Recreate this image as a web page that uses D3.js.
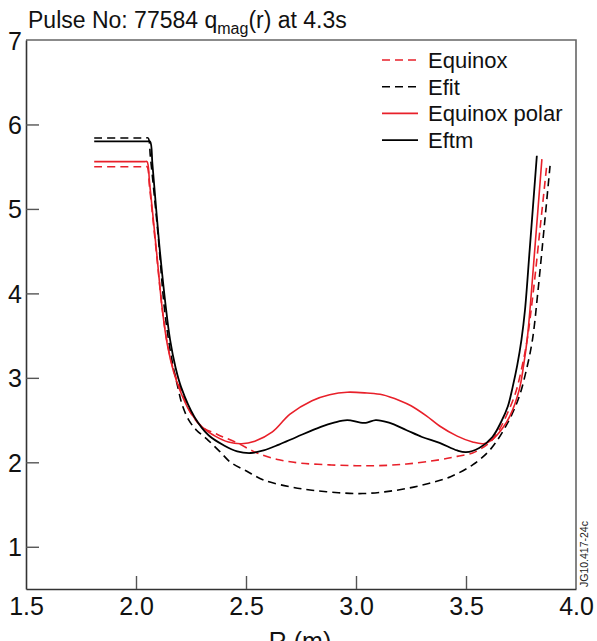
<!DOCTYPE html>
<html>
<head>
<meta charset="utf-8">
<script src="https://cdn.jsdelivr.net/npm/d3@7"></script>
<style>
  body { margin: 0; background: #fff; }
  svg { font-family: "Liberation Sans", Arial, sans-serif; }
</style>
</head>
<body>
<svg id="chart" width="597" height="641"></svg>
<script>

// q profiles, [R (m), q]
var equinox = [
  [1.81,5.50],[2.00,5.50],[2.04,5.50],[2.05,5.50],[2.062,5.25],[2.094,4.45],[2.12,3.80],
  [2.143,3.40],[2.172,3.08],[2.205,2.85],[2.25,2.58],[2.30,2.42],[2.37,2.33],[2.46,2.23],
  [2.55,2.11],[2.65,2.03],[2.75,1.99],[2.88,1.97],[3.00,1.96],[3.10,1.96],[3.23,1.98],
  [3.38,2.03],[3.46,2.07],[3.53,2.11],[3.58,2.18],[3.61,2.24],[3.65,2.38],[3.69,2.59],
  [3.725,2.82],[3.752,3.10],[3.778,3.45],[3.805,4.00],[3.838,4.80],[3.868,5.54]
];
var efit = [
  [1.81,5.84],[2.00,5.84],[2.045,5.84],[2.055,5.84],[2.066,5.60],[2.10,4.70],[2.128,3.85],
  [2.148,3.45],[2.17,3.12],[2.19,2.89],[2.21,2.68],[2.24,2.50],[2.275,2.38],[2.32,2.28],
  [2.38,2.13],[2.43,2.00],[2.50,1.90],[2.58,1.79],[2.70,1.71],[2.80,1.67],[2.92,1.64],
  [3.03,1.63],[3.13,1.65],[3.23,1.69],[3.33,1.75],[3.43,1.83],[3.53,1.97],[3.61,2.15],
  [3.69,2.47],[3.742,2.78],[3.775,3.10],[3.802,3.45],[3.826,4.00],[3.856,4.80],[3.882,5.51]
];
var equinoxPolar = [
  [1.81,5.56],[2.00,5.56],[2.04,5.56],[2.05,5.56],[2.062,5.30],[2.095,4.45],[2.12,3.80],
  [2.142,3.40],[2.17,3.08],[2.20,2.85],[2.245,2.60],[2.30,2.42],[2.36,2.31],[2.42,2.24],
  [2.48,2.22],[2.54,2.25],[2.62,2.36],[2.70,2.57],[2.80,2.73],[2.88,2.80],[2.96,2.83],
  [3.05,2.82],[3.12,2.80],[3.20,2.73],[3.25,2.67],[3.32,2.55],[3.38,2.43],[3.46,2.31],
  [3.53,2.24],[3.58,2.22],[3.62,2.27],[3.665,2.40],[3.70,2.55],[3.742,2.86],[3.762,3.15],
  [3.78,3.50],[3.812,4.50],[3.845,5.59]
];
var eftm = [
  [1.81,5.80],[2.00,5.80],[2.054,5.80],[2.064,5.80],[2.075,5.52],[2.105,4.60],[2.135,3.85],
  [2.155,3.45],[2.18,3.12],[2.205,2.89],[2.265,2.54],[2.33,2.32],[2.40,2.20],[2.46,2.13],
  [2.52,2.11],[2.58,2.14],[2.65,2.21],[2.73,2.30],[2.84,2.42],[2.90,2.47],[2.96,2.50],
  [3.02,2.47],[3.05,2.47],[3.09,2.50],[3.15,2.47],[3.23,2.38],[3.30,2.30],[3.38,2.23],
  [3.46,2.14],[3.50,2.12],[3.56,2.17],[3.62,2.30],[3.66,2.48],[3.69,2.66],[3.712,2.89],
  [3.733,3.15],[3.752,3.45],[3.768,3.80],[3.789,4.50],[3.822,5.63]
];

var seriesNames = ["Equinox", "Efit", "Equinox polar", "Eftm"];
var xTicks = [1.5, 2.0, 2.5, 3.0, 3.5, 4.0];
var yTicks = [1, 2, 3, 4, 5, 6, 7];

var RED = "#e8202a";
var series = [
  {name: seriesNames[0], data: equinox,      color: RED,    dash: "8,5", w: 1.6},
  {name: seriesNames[1], data: efit,         color: "#000", dash: "8,5", w: 1.6},
  {name: seriesNames[2], data: equinoxPolar, color: RED,    dash: null,  w: 1.6},
  {name: seriesNames[3], data: eftm,         color: "#000", dash: null,  w: 1.8}
];

var svg = d3.select("#chart");
var pLeft = 26, pRight = 576, pTop = 40, pBottom = 589;

var x = d3.scaleLinear().domain([1.5, 4.0]).range([pLeft, pRight]);
var y = d3.scaleLinear().domain([0.5, 7]).range([pBottom, pTop]);

// frame top / right
svg.append("path")
  .attr("d", "M" + pLeft + "," + pTop + "H" + pRight + "V" + pBottom)
  .attr("fill", "none").attr("stroke", "#666").attr("stroke-width", 1.6);

// axes, ticks pointing inwards
var xAxis = svg.append("g")
  .attr("transform", "translate(0," + pBottom + ")")
  .call(d3.axisBottom(x).tickValues(xTicks).tickSize(-13).tickPadding(3)
    .tickFormat(d3.format(".1f")).tickSizeOuter(0));
xAxis.selectAll("text").attr("font-size", 25).attr("dy", "0.9em").attr("fill", "#111");
xAxis.selectAll(".tick").filter(function(d){ return d === 1.5 || d === 4.0; })
  .select("line").remove();

var yAxis = svg.append("g")
  .attr("transform", "translate(" + pLeft + ",0)")
  .call(d3.axisLeft(y).tickValues(yTicks).tickSize(-13).tickPadding(4)
    .tickFormat(d3.format("d")).tickSizeOuter(0));
yAxis.selectAll("text").attr("font-size", 25).attr("dy", "0.36em").attr("fill", "#111");
yAxis.selectAll(".tick").filter(function(d){ return d === 7; }).select("line").remove();

[xAxis, yAxis].forEach(function(a){
  a.select(".domain").attr("stroke", "#333").attr("stroke-width", 1.6);
  a.selectAll(".tick line").attr("stroke", "#555").attr("stroke-width", 1.4);
});

// curves
var line = d3.line()
  .x(function(d){ return x(d[0]); })
  .y(function(d){ return y(d[1]); })
  .curve(d3.curveCatmullRom.alpha(0.5));

series.forEach(function(s){
  svg.append("path")
    .datum(s.data)
    .attr("d", line)
    .attr("fill", "none")
    .attr("stroke", s.color)
    .attr("stroke-width", s.w)
    .attr("stroke-dasharray", s.dash);
});

// legend
var legend = svg.append("g").attr("transform", "translate(382,60)");
series.forEach(function(s, i){
  var row = legend.append("g").attr("transform", "translate(0," + (i * 26.7) + ")");
  row.append("line")
    .attr("x1", 0).attr("x2", 36).attr("y1", 0).attr("y2", 0)
    .attr("stroke", s.color).attr("stroke-width", s.w)
    .attr("stroke-dasharray", s.dash);
  row.append("text")
    .attr("x", 46).attr("y", 8)
    .attr("font-size", 22).attr("fill", "#111")
    .text(s.name);
});

// title
var title = svg.append("text")
  .attr("x", 28).attr("y", 28).attr("font-size", 23).attr("fill", "#111");
title.append("tspan").text("Pulse No: 77584 q");
title.append("tspan").attr("font-size", 16).attr("dy", 6).text("mag");
title.append("tspan").attr("dy", -6).text("(r) at 4.3s");

// x label (cut by the bottom edge)
svg.append("text")
  .attr("x", 300).attr("y", 650).attr("text-anchor", "middle")
  .attr("font-size", 25).attr("fill", "#111")
  .text("R (m)");

// figure code
svg.append("text")
  .attr("transform", "translate(588,587) rotate(-90)")
  .attr("font-size", 10.5).attr("fill", "#222")
  .text("JG10.417-24c");

</script>
</body>
</html>
